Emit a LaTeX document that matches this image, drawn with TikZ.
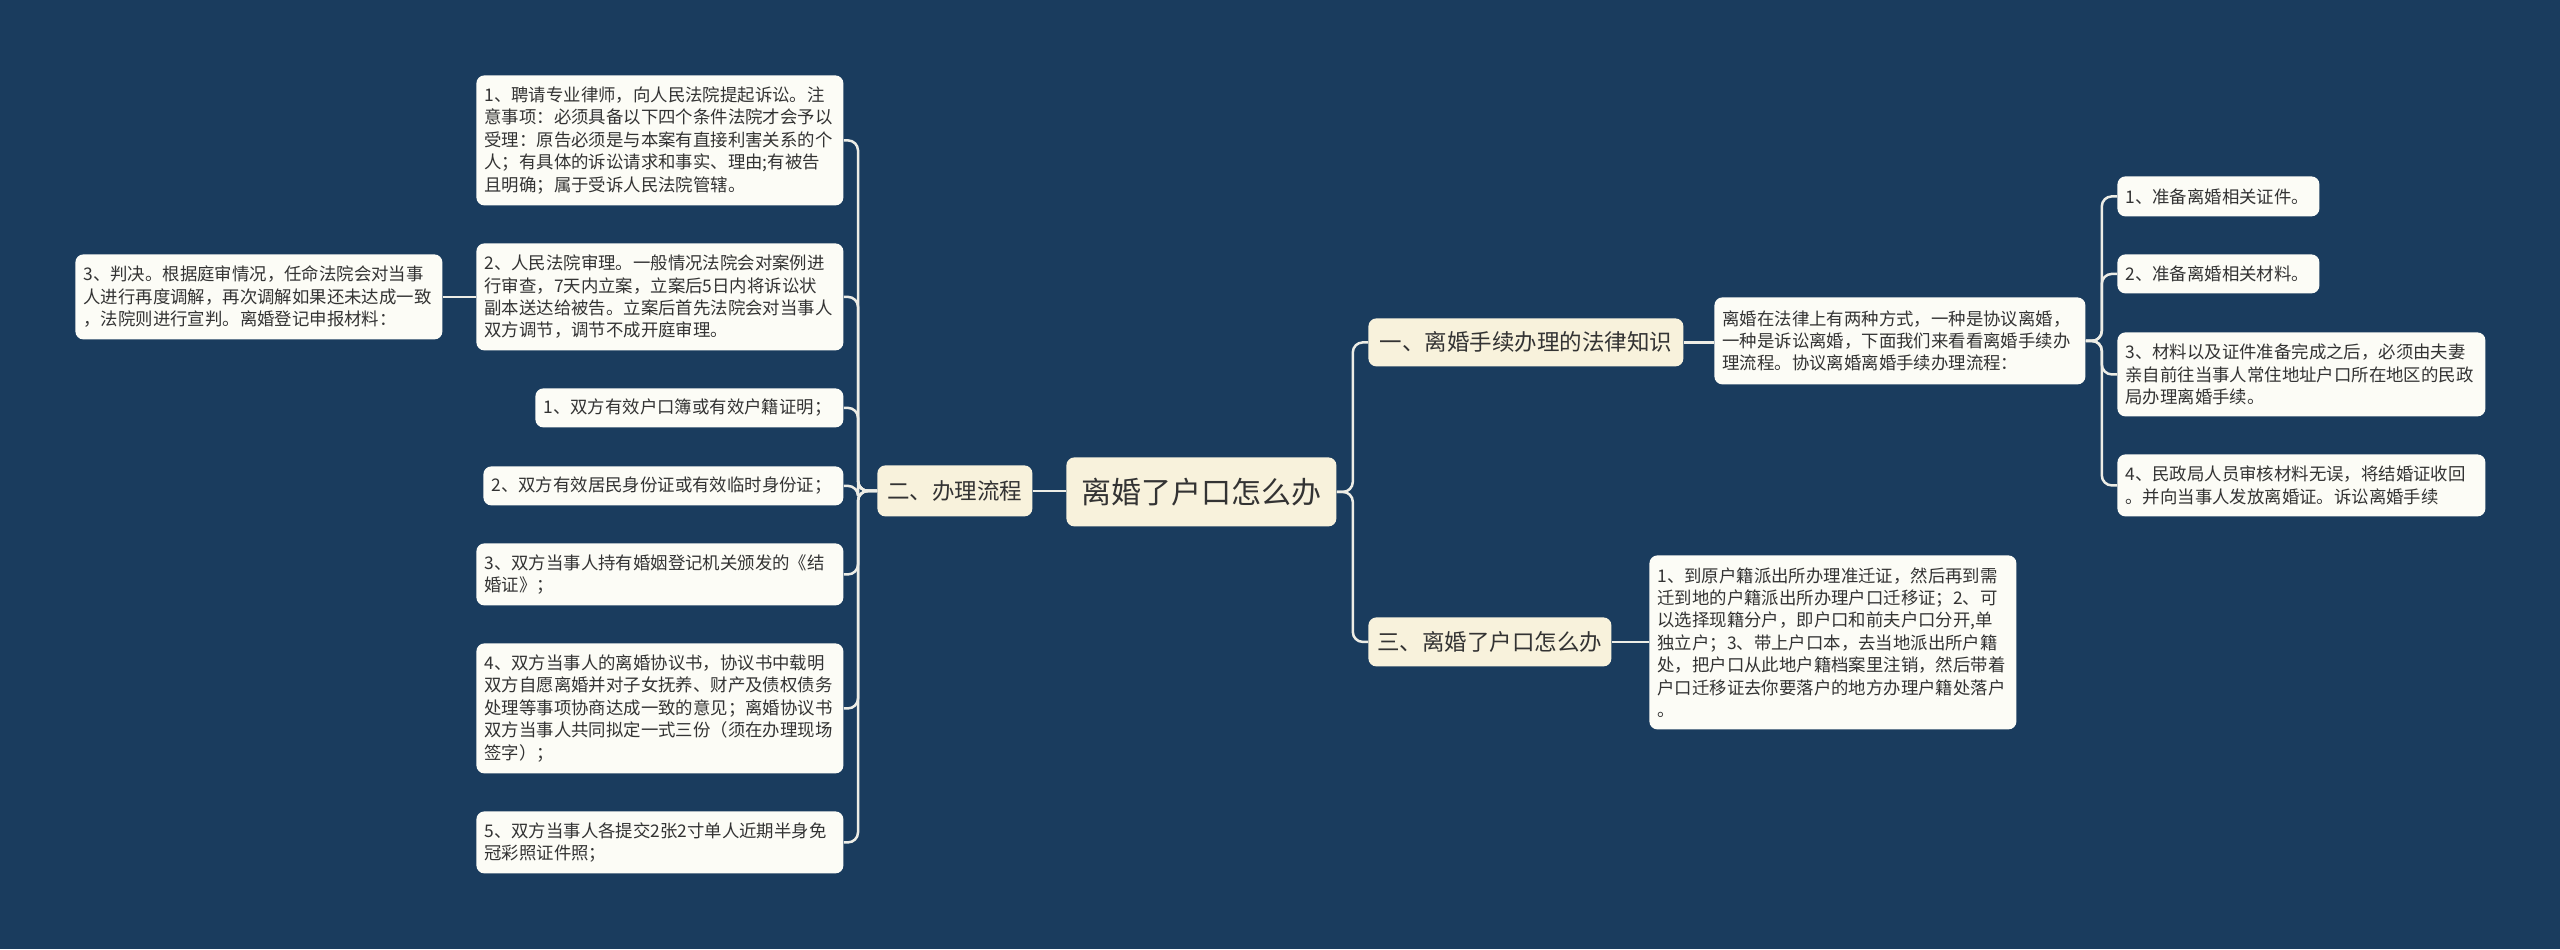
\documentclass[tikz,border=0pt]{standalone}
\usepackage{fontspec}
\setmainfont{Noto Sans CJK SC}
\definecolor{bg}{HTML}{1A3C5E}
\definecolor{lvl}{HTML}{F8F2DC}
\definecolor{leaffill}{HTML}{FCFCF6}
\definecolor{linec}{HTML}{EDEDE6}
\definecolor{txt}{HTML}{333333}
\begin{document}
\begin{tikzpicture}[x=0.5pt,y=-0.5pt,
 base/.style={rounded corners=4pt, inner xsep=4pt, inner ysep=0pt, anchor=north west, text=txt},
 rootbox/.style={base, fill=lvl, font=\fontsize{15}{18}\selectfont, align=center},
 topic/.style={base, fill=lvl, font=\fontsize{11.25}{14}\selectfont, align=center},
 leaf/.style={base, fill=leaffill, font=\fontsize{8.7}{11.2}\selectfont, align=left},
 conn/.style={draw=linec, line width=1.25pt, rounded corners=5pt},
]
\fill[bg] (0,0) rectangle (2560,949);
\useasboundingbox (0,0) rectangle (2560,949);

% root and topics
\node[rootbox, minimum width=135pt, minimum height=34.5pt] (root) at (1066,457) {离婚了户口怎么办};
\node[topic, minimum width=77.5pt, minimum height=25.5pt] (t2) at (877,465) {二、办理流程};
\node[topic, minimum width=157.5pt, minimum height=24pt] (t1) at (1368,318) {一、离婚手续办理的法律知识};
\node[topic, minimum width=121.5pt, minimum height=24.5pt] (t3) at (1368,617) {三、离婚了户口怎么办};

% right side
\node[leaf, text width=177.5pt, minimum height=43.5pt] (desc) at (1714,297) {离婚在法律上有两种方式，一种是协议离婚，\\一种是诉讼离婚，下面我们来看看离婚手续办\\理流程。协议离婚离婚手续办理流程：};
\node[leaf, text width=175.5pt, minimum height=87pt] (c3) at (1649,555) {1、到原户籍派出所办理准迁证，然后再到需\\迁到地的户籍派出所办理户口迁移证；2、可\\以选择现籍分户，即户口和前夫户口分开,单\\独立户；3、带上户口本，去当地派出所户籍\\处，把户口从此地户籍档案里注销，然后带着\\户口迁移证去你要落户的地方办理户籍处落户\\。};
\node[leaf, text width=93pt, minimum height=20pt] (r1) at (2117,176) {1、准备离婚相关证件。};
\node[leaf, text width=93pt, minimum height=19.5pt] (r2) at (2117,254) {2、准备离婚相关材料。};
\node[leaf, text width=176pt, minimum height=42pt] (r3) at (2117,332) {3、材料以及证件准备完成之后，必须由夫妻\\亲自前往当事人常住地址户口所在地区的民政\\局办理离婚手续。};
\node[leaf, text width=176pt, minimum height=31pt] (r4) at (2117,454) {4、民政局人员审核材料无误，将结婚证收回\\。并向当事人发放离婚证。诉讼离婚手续};

% left side
\node[leaf, text width=175.5pt, minimum height=65pt] (l1) at (476,75) {1、聘请专业律师，向人民法院提起诉讼。注\\意事项：必须具备以下四个条件法院才会予以\\受理：原告必须是与本案有直接利害关系的个\\人；有具体的诉讼请求和事实、理由;有被告\\且明确；属于受诉人民法院管辖。};
\node[leaf, text width=175.5pt, minimum height=53.5pt] (l2) at (476,243) {2、人民法院审理。一般情况法院会对案例进\\行审查，7天内立案，立案后5日内将诉讼状\\副本送达给被告。立案后首先法院会对当事人\\双方调节，调节不成开庭审理。};
\node[leaf, text width=175.5pt, minimum height=42.5pt] (fl) at (75,254) {3、判决。根据庭审情况，任命法院会对当事\\人进行再度调解，再次调解如果还未达成一致\\，法院则进行宣判。离婚登记申报材料：};
\node[leaf, text width=146pt, minimum height=19.5pt] (l3) at (535,388) {1、双方有效户口簿或有效户籍证明；};
\node[leaf, text width=172pt, minimum height=19.5pt] (l4) at (483,466) {2、双方有效居民身份证或有效临时身份证；};
\node[leaf, text width=175.5pt, minimum height=31pt] (l5) at (476,543) {3、双方当事人持有婚姻登记机关颁发的《结\\婚证》；};
\node[leaf, text width=175.5pt, minimum height=65pt] (l6) at (476,643) {4、双方当事人的离婚协议书，协议书中载明\\双方自愿离婚并对子女抚养、财产及债权债务\\处理等事项协商达成一致的意见；离婚协议书\\双方当事人共同拟定一式三份（须在办理现场\\签字）；};
\node[leaf, text width=175.5pt, minimum height=31pt] (l7) at (476,811) {5、双方当事人各提交2张2寸单人近期半身免\\冠彩照证件照；};

% connectors
\draw[conn] (root.east) -- ++(16,0) |- (t1.west);
\draw[conn] (root.east) -- ++(16,0) |- (t3.west);
\draw[conn] (t1.east) -- (desc.west |- t1.east);
\draw[conn] (t3.east) -- (c3.west |- t3.east);
\foreach \n in {r1,r2,r3,r4} \draw[conn] (desc.east) -- ++(16,0) |- (\n.west);
\draw[conn] (t2.east) -- (root.west |- t2.east);
\foreach \n in {l1,l2,l3,l4,l5,l6,l7} \draw[conn] (t2.west) -- ++(-19,0) |- (\n.east);
\draw[conn] (l2.west) -- (fl.east |- l2.west);
\end{tikzpicture}
\end{document}
